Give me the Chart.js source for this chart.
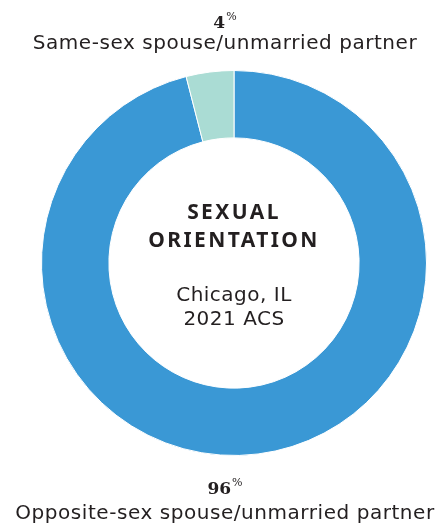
<!DOCTYPE html>
<html>
<head>
<meta charset="utf-8">
<script src="https://cdn.jsdelivr.net/npm/chart.js@4"></script>
<style>
  html, body { margin: 0; padding: 0; background: #fff; }
  #wrap { position: relative; width: 447px; height: 526px; overflow: hidden; }
  #c { position: absolute; left: 0; top: 0; }
  .t { position: absolute; white-space: nowrap; text-align: center; color: #231f20; }
  .lab { left: -25px; width: 500px; font-family: "DejaVu Sans"; font-size: 20px; line-height: 20px; letter-spacing: 0.55px; }
  .pct { left: -25px; width: 500px; font-family: "DejaVu Serif"; font-weight: bold; font-size: 17px; line-height: 17px; }
  .pct span { font-size: 11px; font-weight: normal; position: relative; top: -8px; margin-left: 1px; }
  .ttl { left: 34px; width: 400px; font-family: "Noto Sans"; font-weight: 700; font-size: 21px; line-height: 21px; letter-spacing: 2.4px; }
  .sub { left: 34px; width: 400px; font-family: "DejaVu Sans"; font-size: 20px; line-height: 20px; letter-spacing: 0.5px; }
</style>
</head>
<body>
<div id="wrap">
  <canvas id="c" width="447" height="526"></canvas>
  <div class="t pct" id="pTop" style="top:14.0px"></div>
  <div class="t lab" id="lTop" style="top:32.1px"></div>
  <div class="t pct" id="pBot" style="top:479.8px"></div>
  <div class="t lab" id="lBot" style="top:502.1px"></div>
  <div class="t ttl" id="t1" style="top:200.8px"></div>
  <div class="t ttl" id="t2" style="top:228.8px"></div>
  <div class="t sub" id="s1" style="top:283.8px"></div>
  <div class="t sub" id="s2" style="top:308px"></div>
</div>
<script>
// Data
const categories = ['Opposite-sex spouse/unmarried partner', 'Same-sex spouse/unmarried partner'];
const values = [96, 4];
const colors = ['#3a98d5', '#aadcd4'];
const titleLines = ['SEXUAL', 'ORIENTATION'];
const subtitleLines = ['Chicago, IL', '2021 ACS'];

// Text
document.getElementById('pTop').innerHTML = values[1] + '<span>%</span>';
document.getElementById('lTop').textContent = categories[1];
document.getElementById('pBot').innerHTML = values[0] + '<span>%</span>';
document.getElementById('lBot').textContent = categories[0];
document.getElementById('t1').textContent = titleLines[0];
document.getElementById('t2').textContent = titleLines[1];
document.getElementById('s1').textContent = subtitleLines[0];
document.getElementById('s2').textContent = subtitleLines[1];

new Chart(document.getElementById('c'), {
  type: 'doughnut',
  data: {
    labels: categories,
    datasets: [{
      data: values,
      backgroundColor: colors,
      borderColor: '#ffffff',
      borderWidth: 1,
      hoverOffset: 0,
      offset: 0
    }]
  },
  options: {
    responsive: false,
    animation: false,
    cutout: '65%',
    rotation: 0,
    layout: { padding: { left: 41, right: 20, top: 70, bottom: 70 } },
    plugins: { legend: { display: false }, tooltip: { enabled: false }, title: { display: false } },
    events: []
  }
});
</script>
</body>
</html>
